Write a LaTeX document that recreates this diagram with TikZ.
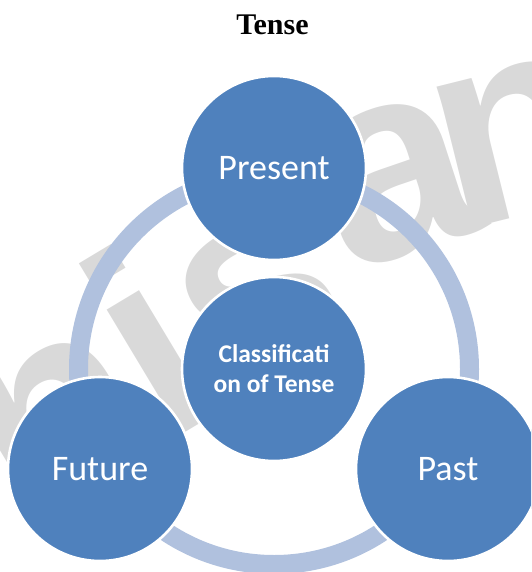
\documentclass[tikz,border=0pt]{standalone}
\usepackage{fontspec}
\setmainfont{Carlito}
\newfontfamily\titlefont{Liberation Serif}
\newfontfamily\wmfont{Liberation Sans}
\definecolor{circblue}{HTML}{4F81BD}
\definecolor{ringblue}{HTML}{B0C1DE}
\definecolor{wmgray}{HTML}{D9D9D9}
\tikzset{
  tensecirc/.style={circle, fill=circblue, draw=white, line width=2.6pt,
    minimum size=184pt, inner sep=0pt, text=white, align=center},
  outerlabel/.style={font=\fontsize{36}{40}\selectfont},
  centerlabel/.style={font=\bfseries\fontsize{25.5}{30}\selectfont},
  wmletter/.style={text=wmgray, inner sep=0pt, anchor=base,
    font=\wmfont\bfseries\fontsize{275}{275}\selectfont},
  ringstyle/.style={draw=ringblue, line width=19pt}
}
\begin{document}
\begin{tikzpicture}[x=1pt,y=-1pt]
\useasboundingbox (0,0) rectangle (531,572);
\clip (0,0) rectangle (531,572);
% watermark
\node[wmletter, rotate=31] (wh) at (98,488) {h};
\node[wmletter, rotate=31] (wi) at (198,425) {i};
\node[wmletter, rotate=28] (ws) at (294,364) {s};
\node[wmletter, rotate=18] (wa) at (418,250) {a};
\node[wmletter, rotate=14] (wn) at (536,212) {n};
% title
\node[anchor=base, inner sep=0pt, font=\titlefont\bfseries\fontsize{30}{32}\selectfont] (title) at (272.5,35) {Tense};
% ring
\coordinate (ringc) at (274,369);
\draw[ringstyle] (ringc) circle (195.5);
% circles
\node[tensecirc, outerlabel] (present) at (274,168) {Present};
\node[tensecirc, outerlabel] (future) at (100,469) {Future};
\node[tensecirc, outerlabel] (past) at (448,469) {Past};
\node[tensecirc, centerlabel] (center) at (274,369) {Classificati\\on of Tense};
\end{tikzpicture}
\end{document}
